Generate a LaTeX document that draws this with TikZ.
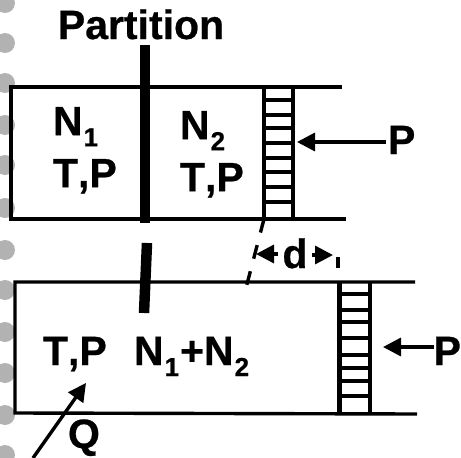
\documentclass[tikz,border=0pt]{standalone}
\usepackage{fontspec}
\setmainfont[Kerning=Off,BoldFeatures={FakeBold=0.6}]{Liberation Sans}
\usetikzlibrary{arrows.meta}
\newcommand{\subs}[1]{\kern1pt\raisebox{-11pt}{\fontsize{26}{26}\selectfont #1}\kern1pt}
\begin{document}
\begin{tikzpicture}[
  x=1pt, y=-1pt,
  every node/.style = {inner sep=0pt, outer sep=0pt, align=left,
    font=\fontsize{41}{52}\selectfont\bfseries},
  wall/.style = {line width=3.4pt},
  rung/.style = {line width=3.6pt},
  bar/.style = {line width=10.5pt},
  push/.style = {line width=3.4pt, -{Triangle[length=18pt,width=18pt]}}
  ]
    \useasboundingbox (0,0) rectangle (461,458);
    % spiral binding
    \foreach \y in {3,43,83,125,165,208,250,290,332,373,415,455}
      \fill[gray!60] (5,\y) circle (10);

    % upper cylinder
    \coordinate (upTop) at (342,87);
    \coordinate (upTL) at (11,87);
    \coordinate (upBL) at (11,219);
    \coordinate (upBot) at (346,219);
    \draw[wall] (upTop) -- (upTL) -- (upBL) -- (upBot);
    \foreach \y in {100,115,128,143,158,172,187,202}
      \draw[rung] (264,\y) -- (293,\y);
    \draw[wall, line width=4pt] (264,86) -- (264,220);
    \draw[wall, line width=4pt] (293,86) -- (293,220);
    \draw[bar] (145,45) -- (145,223);

    % lower cylinder
    \coordinate (lowTop) at (415,282);
    \coordinate (lowTL) at (15,282);
    \coordinate (lowBL) at (15,413);
    \coordinate (lowBot) at (417,414);
    \draw[wall] (lowTop) -- (lowTL) -- (lowBL) -- (lowBot);
    \foreach \y in {294,310,322,338,355,368,381,396}
      \draw[rung] (339,\y) -- (370,\y);
    \draw[wall, line width=5pt] (339,281) -- (339,415);
    \draw[wall, line width=4pt] (370,281) -- (370,415);
    \draw[bar] (147,243) -- (144,313);

    % labels
    \node[anchor=base] (partition) at (141,39) {Partition};
    \node[anchor=north west] (gasOne) at (53,107) {N\subs{1}\\T,P};
    \node[anchor=north west] (gasTwo) at (180,111) {N\subs{2}\\T,P};
    \node[anchor=base west] (gasMix) at (43,365) {T,P};
    \node[anchor=base west] (gasSum) at (134,365) {N\subs{1}+N\subs{2}};
    \node[anchor=base west] (forceUp) at (388,154) {P};
    \node[anchor=base west] (forceLow) at (433.6,365) {P};
    \node[anchor=base west] (heat) at (68,448) {Q};
    \node[anchor=base] (gap) at (295,268) {d};

    % arrows
    \coordinate (forceUpTip) at (297,142);
    \coordinate (forceLowTip) at (383,347);
    \coordinate (heatTail) at (33,458);
    \coordinate (heatTip) at (86,383);
    \draw[push, shorten <=2pt] (forceUp.west |- forceUpTip) -- (forceUpTip);
    \draw[push] (forceLow.west |- forceLowTip) -- (forceLowTip);
    \draw[push] (heatTail) -- (heatTip);

    % displacement
    \coordinate (gapLeft) at (256,254);
    \coordinate (gapRight) at (333,255);
    \coordinate (tickTop) at (338,257);
    \coordinate (tickBot) at (338,268);
    \coordinate (dashTop) at (264,219);
    \coordinate (dashBot) at (246,288);
    \draw[push] (gap.west |- gapLeft) ++(-4,0) -- (gapLeft);
    \draw[push] (gap.east |- gapRight) ++(4,0) -- (gapRight);
    \draw[line width=3.4pt] (tickTop) -- (tickBot);
    \draw[line width=3.4pt, dash pattern=on 14pt off 13pt] (dashTop) -- (dashBot);
\end{tikzpicture}
\end{document}
